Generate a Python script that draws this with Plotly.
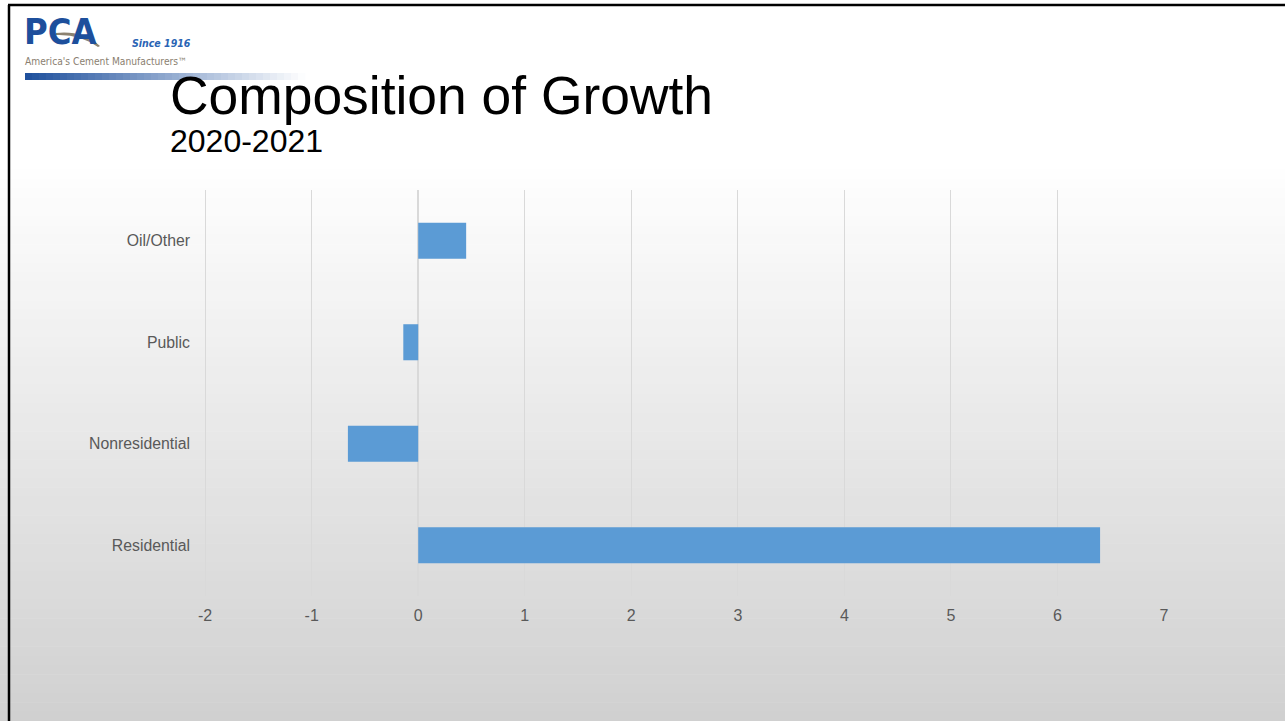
import plotly.graph_objects as go

# Composition of growth, 2020-2021 (percentage points)
categories = ["Residential", "Nonresidential", "Public", "Oil/Other"]
growth = [6.40, -0.66, -0.14, 0.45]
x_ticks = [-2, -1, 0, 1, 2, 3, 4, 5, 6, 7]
x_tick_labels = ["-2", "-1", "0", "1", "2", "3", "4", "5", "6", "7"]

W, H = 1285, 721


def px(x):
    return x / W


def py(y):
    return 1 - y / H


def lerp_hex(c1, c2, t):
    a = [int(c1[i:i + 2], 16) for i in (1, 3, 5)]
    b = [int(c2[i:i + 2], 16) for i in (1, 3, 5)]
    return "rgb(%d,%d,%d)" % tuple(round(a[k] + (b[k] - a[k]) * t) for k in range(3))


fig = go.Figure()
fig.add_trace(go.Bar(
    x=growth,
    y=categories,
    orientation="h",
    width=0.355,
    marker=dict(color="#5b9bd5", line=dict(width=0)),
    hoverinfo="x+y",
))

shapes = []

# slide background: white top fading to light grey at the bottom
bands = 60
top_px, bot_px = 160, H
shapes.append(dict(type="rect", xref="paper", yref="paper", x0=0, x1=1,
                   y0=py(top_px), y1=1, fillcolor="#ffffff", line=dict(width=0),
                   layer="below"))
for i in range(bands):
    y0 = top_px + (bot_px - top_px) * i / bands
    y1 = top_px + (bot_px - top_px) * (i + 1) / bands + 0.5
    shapes.append(dict(type="rect", xref="paper", yref="paper", x0=0, x1=1,
                       y0=py(y1), y1=py(y0),
                       fillcolor=lerp_hex("#ffffff", "#d0d0d0", (i + 0.5) / bands),
                       line=dict(width=0), layer="below"))

# logo underline bar: blue fading to white
steps = 40
bx0, bx1 = 25, 305
for i in range(steps):
    x0 = bx0 + (bx1 - bx0) * i / steps
    x1 = bx0 + (bx1 - bx0) * (i + 1) / steps + 0.5
    shapes.append(dict(type="rect", xref="paper", yref="paper",
                       x0=px(x0), x1=px(x1), y0=py(80), y1=py(73),
                       fillcolor=lerp_hex("#1d4f9c", "#ffffff", (i + 0.5) / steps),
                       line=dict(width=0), layer="above"))

# swoosh through the logo letters
sw = "M {} {} Q {} {} {} {} L {} {} Q {} {} {} {} Z".format(
    px(56), py(33), px(82), py(30), px(100), py(46),
    px(98), py(47), px(80), py(34), px(56), py(35))
shapes.append(dict(type="path", xref="paper", yref="paper", path=sw,
                   fillcolor="#8c8270", line=dict(width=0), layer="above"))

# frame lines (top and left)
shapes.append(dict(type="line", xref="paper", yref="paper",
                   x0=px(8), x1=1, y0=py(5), y1=py(5),
                   line=dict(color="#000000", width=2.5)))
shapes.append(dict(type="line", xref="paper", yref="paper",
                   x0=px(9), x1=px(9), y0=py(5), y1=0,
                   line=dict(color="#000000", width=2.5)))

logo_font = "DejaVu Sans Condensed, Liberation Sans Narrow, Liberation Sans"
annotations = [
    dict(text="<b>PCA</b>", x=px(22), y=py(32), xanchor="left", yanchor="middle",
         font=dict(family=logo_font, size=36, color="#1d4f9c")),
    dict(text="<b><i>Since 1916</i></b>", x=px(130), y=py(43), xanchor="left",
         yanchor="middle",
         font=dict(family=logo_font, size=10.5, color="#2a64b4")),
    dict(text="America's Cement Manufacturers™", x=px(23), y=py(62), xanchor="left",
         yanchor="middle",
         font=dict(family=logo_font, size=10.2, color="#8a8070")),
    dict(text="Composition of Growth", x=px(168), y=py(96), xanchor="left",
         yanchor="middle",
         font=dict(family="Liberation Sans, Arial", size=53.4, color="#000000")),
    dict(text="2020-2021", x=px(168), y=py(141), xanchor="left", yanchor="middle",
         font=dict(family="Liberation Sans, Arial", size=32, color="#000000")),
]
for a in annotations:
    a.update(xref="paper", yref="paper", showarrow=False)

fig.update_layout(
    template="none",
    autosize=False,
    width=W, height=H,
    margin=dict(l=0, r=0, t=0, b=0, pad=0, autoexpand=False),
    paper_bgcolor="#ffffff",
    plot_bgcolor="rgba(0,0,0,0)",
    showlegend=False,
    shapes=shapes,
    annotations=annotations,
    xaxis=dict(
        domain=[px(203), px(1164)],
        range=[-2.02, 7.0],
        tickvals=x_ticks,
        ticktext=x_tick_labels,
        automargin=False,
        showgrid=True, gridcolor="#d9d9d9", gridwidth=1,
        zeroline=True, zerolinecolor="#d9d9d9", zerolinewidth=1.5,
        showline=False, ticks="",
        tickfont=dict(family="Liberation Sans, Arial", size=16, color="#595959"),
        ticklabelstandoff=8,
        fixedrange=True,
    ),
    yaxis=dict(
        domain=[py(596), py(190)],
        categoryorder="array", categoryarray=categories,
        automargin=False,
        showgrid=False, zeroline=False, showline=False, ticks="",
        tickfont=dict(family="Liberation Sans, Arial", size=15.8, color="#595959"),
        ticklabelstandoff=12,
        fixedrange=True,
    ),
)

fig.write_html(
    "out.html",
    post_script="document.body.style.margin='0';document.body.style.overflow='hidden';",
)
